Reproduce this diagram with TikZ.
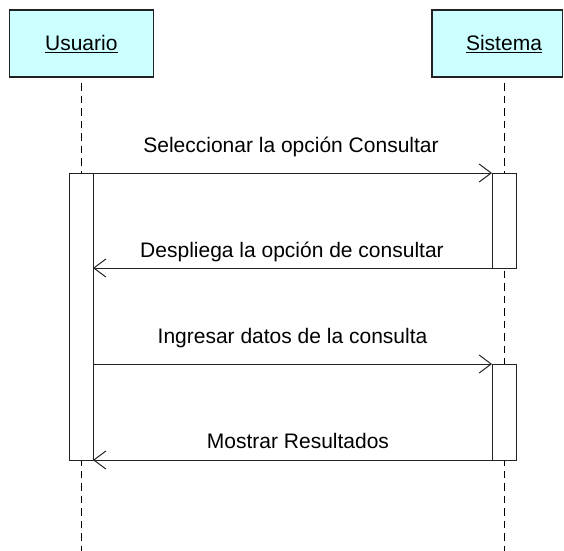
\documentclass[tikz,border=0pt]{standalone}
\usepackage{fontspec}
\setmainfont{Liberation Sans}
\usetikzlibrary{arrows.meta}
\definecolor{headfill}{HTML}{CCFFFF}
\definecolor{linegray}{HTML}{222222}
\begin{document}
\begin{tikzpicture}[x=1pt,y=-1pt,
  font=\fontsize{21}{25}\selectfont,
  head/.style={draw=linegray,line width=1.1pt,fill=headfill,minimum height=67pt,inner sep=0pt},
  lifeline/.style={draw=black,line width=1pt,dash pattern=on 7.5pt off 5pt},
  actbox/.style={draw=linegray,line width=1pt,fill=white},
  msg/.style={draw=linegray,line width=1pt,-{Straight Barb[length=12pt,width=18pt,line width=1pt]}},
  lbl/.style={anchor=base,inner sep=0pt},
  uline/.style={draw=black,line width=1pt}
]
\useasboundingbox (0,0) rectangle (564,550);
\clip (0,0) rectangle (564,550);

% lifeline heads
\node[head,minimum width=144pt] (u) at (81.3,43.5) {};
\node[head,minimum width=130.5pt] (s) at (497.25,43.5) {};
\node[lbl] (ut) at (81.3,50) {Usuario};
\node[lbl] (st) at (504,50) {Sistema};
\draw[uline] ([yshift=-2.6pt]ut.base west) -- ([yshift=-2.6pt]ut.base east);
\draw[uline] ([yshift=-2.6pt]st.base west) -- ([yshift=-2.6pt]st.base east);

% lifeline ends
\coordinate (utop) at (81.5,83);
\coordinate (stop) at (504,83);
\coordinate (uend) at (81.5,552);
\coordinate (send) at (504,552);
\draw[lifeline] (utop) -- (uend);
\draw[lifeline] (stop) -- (send);

% activation bars
\draw[actbox] (69,173) rectangle (93,460);
\draw[actbox] (492,173) rectangle (516,268);
\draw[actbox] (492,364) rectangle (516,460);

% message end points
\coordinate (m1a) at (93,173);   \coordinate (m1b) at (492,173);
\coordinate (m2a) at (492,268);  \coordinate (m2b) at (93,268);
\coordinate (m3a) at (93,364);   \coordinate (m3b) at (492,364);
\coordinate (m4a) at (492,460);  \coordinate (m4b) at (93,460);

\draw[msg] (m1a) -- (m1b);
\draw[msg] (m2a) -- (m2b);
\draw[msg] (m3a) -- (m3b);
\draw[msg] (m4a) -- (m4b);

% message labels
\node[lbl] (l1) at (291,152) {Seleccionar la opción Consultar};
\node[lbl] (l2) at (292,257) {Despliega la opción de consultar};
\node[lbl] (l3) at (292.5,343) {Ingresar datos de la consulta};
\node[lbl] (l4) at (298,448) {Mostrar Resultados};
\end{tikzpicture}
\end{document}
